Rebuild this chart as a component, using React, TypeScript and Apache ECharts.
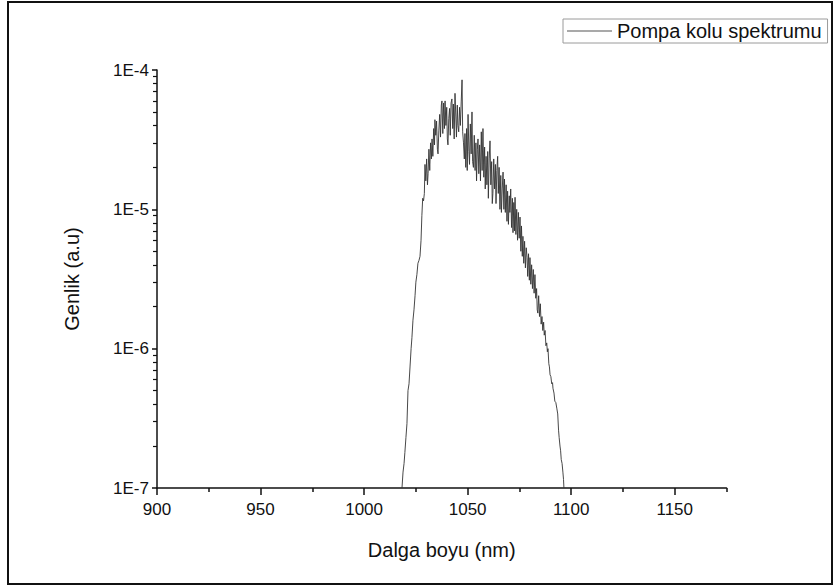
import React, { useEffect, useRef } from "react";
import * as echarts from "echarts";

// Wavelength (nm) and amplitude (a.u.)
const wavelengths: number[] = [
  1018.3, 1018.8, 1019.3, 1019.7, 1020.2, 1020.7, 1021.2, 1021.7, 1022.2, 1022.7,
  1023.1, 1023.6, 1024.1, 1024.6, 1025.0, 1025.5, 1026.0, 1026.5, 1027.0, 1027.5,
  1027.9, 1028.3, 1028.7, 1029.1, 1029.4, 1029.8, 1030.2, 1030.6, 1030.9, 1031.3,
  1031.7, 1032.1, 1032.5, 1032.8, 1033.2, 1033.6, 1034.0, 1034.2, 1034.6, 1035.0,
  1035.4, 1035.7, 1036.1, 1036.5, 1036.9, 1037.3, 1037.6, 1038.0, 1038.4, 1038.8,
  1039.1, 1039.5, 1039.9, 1040.2, 1040.5, 1040.9, 1041.3, 1041.6, 1042.0, 1042.4,
  1042.8, 1043.1, 1043.5, 1043.9, 1044.3, 1044.6, 1045.0, 1045.3, 1045.7, 1046.1,
  1046.5, 1046.9, 1047.3, 1047.6, 1048.0, 1048.4, 1048.7, 1049.1, 1049.5, 1049.8,
  1050.2, 1050.6, 1050.9, 1051.3, 1051.7, 1052.1, 1052.4, 1052.8, 1053.2, 1053.6,
  1054.0, 1054.3, 1054.7, 1055.0, 1055.4, 1055.8, 1056.2, 1056.6, 1057.0, 1057.4,
  1057.8, 1058.2, 1058.5, 1058.9, 1059.3, 1059.7, 1060.0, 1060.4, 1060.8, 1061.2,
  1061.6, 1061.9, 1062.2, 1062.6, 1063.0, 1063.4, 1063.7, 1064.1, 1064.5, 1064.8,
  1065.2, 1065.6, 1066.0, 1066.3, 1066.7, 1067.1, 1067.5, 1067.8, 1068.2, 1068.6,
  1069.0, 1069.3, 1069.7, 1070.1, 1070.4, 1070.8, 1071.2, 1071.6, 1071.9, 1072.3,
  1072.6, 1072.9, 1073.3, 1073.7, 1074.1, 1074.5, 1074.9, 1075.3, 1075.7, 1076.0,
  1076.4, 1076.7, 1077.1, 1077.5, 1077.9, 1078.3, 1078.7, 1079.0, 1079.4, 1079.8,
  1080.1, 1080.5, 1080.9, 1081.3, 1081.7, 1082.1, 1082.5, 1082.9, 1083.3, 1083.6,
  1083.9, 1084.3, 1084.7, 1085.1, 1085.5, 1085.9, 1086.3, 1086.7, 1087.0, 1087.4,
  1087.8, 1088.2, 1088.5, 1088.8, 1089.2, 1089.5, 1089.8, 1090.2, 1090.6, 1091.0,
  1091.2, 1091.7, 1092.1, 1092.6, 1093.1, 1093.5, 1093.9, 1094.2, 1094.6, 1094.9,
  1095.2, 1095.6, 1096.0, 1096.3, 1096.5,
];

const amplitudes: number[] = [
  1.0e-7, 1.3e-7, 1.5e-7, 1.8e-7, 2.3e-7, 2.9e-7, 5.0e-7, 5.6e-7, 7.5e-7, 1.0e-6,
  1.2e-6, 1.6e-6, 1.9e-6, 2.4e-6, 3.0e-6, 3.4e-6, 4.1e-6, 4.3e-6, 4.6e-6, 6.0e-6,
  9.0e-6, 1.2e-5, 1.15e-5, 1.3e-5, 2.1e-5, 1.6e-5, 2.3e-5, 1.5e-5, 1.8e-5, 2.7e-5,
  1.9e-5, 3.0e-5, 2.3e-5, 3.2e-5, 2.4e-5, 3.8e-5, 2.9e-5, 4.4e-5, 3.4e-5, 4.3e-5,
  2.7e-5, 2.5e-5, 3.7e-5, 4.8e-5, 3.3e-5, 5.6e-5, 6.0e-5, 3.5e-5, 5.8e-5, 3.8e-5,
  6.0e-5, 4.0e-5, 5.4e-5, 3.2e-5, 2.9e-5, 4.5e-5, 5.3e-5, 3.4e-5, 5.8e-5, 6.2e-5,
  3.8e-5, 5.7e-5, 3.2e-5, 6.8e-5, 4.6e-5, 3.3e-5, 5.6e-5, 4.0e-5, 3.6e-5, 5.4e-5,
  4.0e-5, 5.9e-5, 8.5e-5, 3.6e-5, 3.0e-5, 2.3e-5, 3.5e-5, 2.0e-5, 3.8e-5, 1.9e-5,
  4.8e-5, 2.6e-5, 2.1e-5, 4.1e-5, 2.5e-5, 5.0e-5, 2.2e-5, 2.0e-5, 3.4e-5, 1.9e-5,
  3.0e-5, 1.6e-5, 2.7e-5, 3.2e-5, 1.8e-5, 2.9e-5, 1.6e-5, 3.6e-5, 1.9e-5, 3.8e-5,
  1.7e-5, 2.8e-5, 1.4e-5, 2.4e-5, 1.5e-5, 2.6e-5, 1.2e-5, 2.3e-5, 3.1e-5, 1.5e-5,
  2.2e-5, 1.1e-5, 1.3e-5, 2.3e-5, 1.4e-5, 2.1e-5, 1.1e-5, 1.9e-5, 2.4e-5, 1.3e-5,
  2.0e-5, 1.0e-5, 1.75e-5, 9.5e-6, 1.4e-5, 1.85e-5, 1.0e-5, 1.65e-5, 9.5e-6, 1.5e-5,
  8.2e-6, 1.35e-5, 7.8e-6, 1.25e-5, 9.5e-6, 1.4e-5, 7.4e-6, 1.2e-5, 6.8e-6, 1.12e-5,
  7.0e-6, 1.22e-5, 6.6e-6, 1.0e-5, 6.0e-6, 9.5e-6, 6.2e-6, 8.8e-6, 5.0e-6, 7.6e-6,
  4.6e-6, 6.4e-6, 4.1e-6, 5.9e-6, 3.8e-6, 5.3e-6, 4.5e-6, 3.3e-6, 4.8e-6, 3.1e-6,
  4.5e-6, 2.9e-6, 4.0e-6, 2.7e-6, 3.7e-6, 2.5e-6, 3.4e-6, 2.3e-6, 2.7e-6, 1.9e-6,
  1.8e-6, 2.4e-6, 1.7e-6, 2.1e-6, 1.5e-6, 1.7e-6, 1.35e-6, 1.55e-6, 1.25e-6, 1.35e-6,
  1.05e-6, 1.1e-6, 9.5e-7, 1.0e-6, 7.8e-7, 7.4e-7, 6.5e-7, 6.3e-7, 5.6e-7, 5.7e-7,
  5.2e-7, 4.8e-7, 4.2e-7, 4.1e-7, 3.7e-7, 3.4e-7, 2.6e-7, 2.3e-7, 2.0e-7, 1.85e-7,
  1.6e-7, 1.5e-7, 1.3e-7, 1.15e-7, 1.0e-7,
];

// Axis tick values
const xMajorTicks: number[] = [900, 950, 1000, 1050, 1100, 1150];
const xMinorTicks: number[] = [925, 975, 1025, 1075, 1125, 1175];
const yDecades: number[] = [1e-7, 1e-6, 1e-5];
const yMantissas: number[] = [2, 3, 4, 5, 6, 7, 8, 9];

const seriesName = "Pompa kolu spektrumu";
const xTitle = "Dalga boyu (nm)";
const yTitle = "Genlik (a.u)";

const FONT = "'Liberation Sans', Arial, Helvetica, sans-serif";

export default function App() {
  const ref = useRef<HTMLDivElement>(null);

  useEffect(() => {
    if (!ref.current) return;
    const chart = echarts.init(ref.current, undefined, { renderer: "svg" });

    const data = wavelengths.map((w, i) => [w, amplitudes[i]]);
    const yMinorExp: number[] = [];
    yDecades.forEach((d) =>
      yMantissas.forEach((m) => yMinorExp.push(Math.log10(d * m)))
    );

    chart.setOption({
      animation: false,
      backgroundColor: "#ffffff",
      textStyle: { fontFamily: FONT },
      grid: {
        left: 157,
        right: 107.5,
        top: 70,
        bottom: 100,
        containLabel: false,
        outerBoundsMode: "none",
      },
      legend: {
        show: true,
        data: [seriesName],
        left: 563,
        top: 19,
        padding: [2, 6, 2, 4],
        itemWidth: 45,
        itemHeight: 1,
        icon: "rect",
        itemStyle: { color: "#555", borderWidth: 0 },
        borderColor: "#9a9a9a",
        borderWidth: 1,
        textStyle: { fontSize: 20, color: "#111", fontFamily: FONT },
      },
      xAxis: [
        {
          type: "value",
          position: "bottom",
          min: 900,
          max: 1175,
          name: xTitle,
          nameLocation: "middle",
          nameGap: 52,
          nameTextStyle: { fontSize: 20, color: "#111", fontFamily: FONT },
          axisLine: { show: true, lineStyle: { color: "#111", width: 1.5 } },
          axisTick: {
            show: true,
            inside: false,
            length: 7,
            customValues: xMajorTicks,
            lineStyle: { color: "#111", width: 1.5 },
          },
          axisLabel: {
            show: true,
            customValues: xMajorTicks,
            fontSize: 17,
            color: "#111",
            margin: 13,
            fontFamily: FONT,
            formatter: (v: number) => String(v),
          },
          splitLine: { show: false },
        },
        {
          type: "value",
          position: "bottom",
          min: 900,
          max: 1175,
          axisLine: { show: false },
          axisTick: {
            show: true,
            length: 4,
            customValues: xMinorTicks,
            lineStyle: { color: "#111", width: 1.5 },
          },
          axisLabel: { show: false },
          splitLine: { show: false },
        },
      ],
      yAxis: [
        {
          type: "log",
          position: "left",
          logBase: 10,
          min: 1e-7,
          max: 1e-4,
          name: yTitle,
          nameLocation: "middle",
          nameGap: 75,
          nameRotate: 90,
          nameTextStyle: { fontSize: 20, color: "#111", fontFamily: FONT },
          axisLine: { show: true, lineStyle: { color: "#111", width: 1.5 } },
          axisTick: {
            show: true,
            length: 5,
            lineStyle: { color: "#111", width: 1.5 },
          },
          axisLabel: {
            show: true,
            fontSize: 17,
            color: "#111",
            margin: 8,
            fontFamily: FONT,
            formatter: (v: number) => "1E" + Math.round(Math.log10(v)),
          },
          minorTick: { show: false },
          splitLine: { show: false },
        },
        {
          type: "value",
          position: "left",
          min: -7,
          max: -4,
          axisLine: { show: false },
          axisTick: {
            show: true,
            length: 4,
            customValues: yMinorExp,
            lineStyle: { color: "#111", width: 1.2 },
          },
          axisLabel: { show: false },
          splitLine: { show: false },
        },
      ],
      graphic: [
        {
          type: "rect",
          shape: { x: 8, y: 2, width: 824, height: 582 },
          style: { fill: "none", stroke: "#111", lineWidth: 2 },
          silent: true,
          z: 100,
        },
      ],
      series: [
        {
          name: seriesName,
          type: "line",
          xAxisIndex: 0,
          yAxisIndex: 0,
          data,
          symbol: "none",
          showSymbol: false,
          clip: true,
          lineStyle: { color: "#333", width: 0.9 },
          itemStyle: { color: "#555" },
        },
      ],
    });

    return () => {
      chart.dispose();
    };
  }, []);

  return (
    <div
      ref={ref}
      style={{ position: "fixed", left: 0, top: 0, width: 834, height: 588, background: "#fff" }}
    />
  );
}
